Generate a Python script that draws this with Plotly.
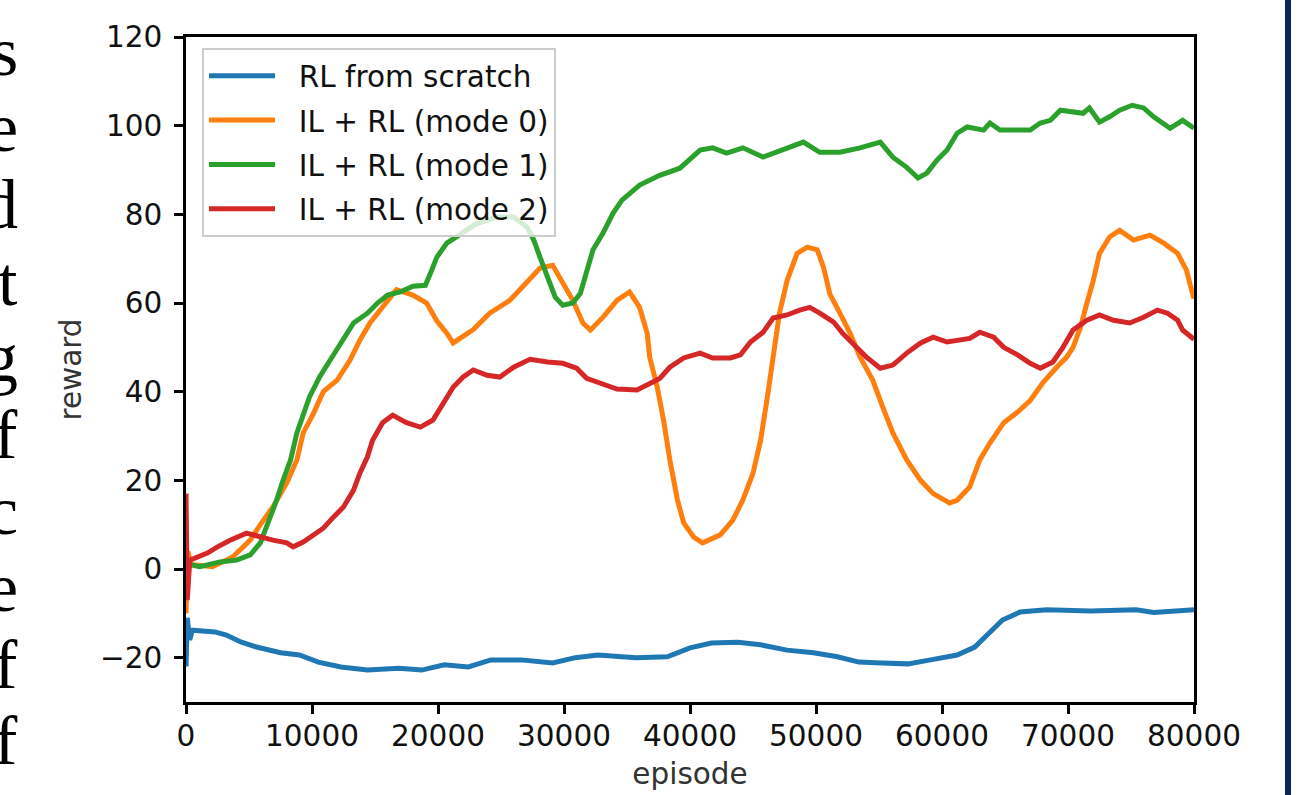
import plotly.graph_objects as go

# ---------------- data ----------------
blue_ep = [0, 100, 300, 500, 2300, 3200, 4400, 5600, 7500, 9000, 10500, 12300, 14400, 16900,
           18700, 20500, 22400, 24200, 26600, 29100, 30900, 32700, 35700, 38200, 40000, 41700,
           43800, 45600, 47700, 49800, 51700, 53400, 55200, 57300, 59100, 61200, 62600, 63700,
           64800, 66200, 68300, 71800, 75400, 76800, 80000]
blue_val = [-22, -11, -16, -13.8, -14.2, -14.9, -16.5, -17.6, -18.9, -19.4, -21, -22.1, -22.8, -22.4,
            -22.8, -21.6, -22.1, -20.5, -20.5, -21.2, -20, -19.4, -20, -19.8, -17.8, -16.7,
            -16.5, -17.1, -18.3, -18.9, -19.8, -21, -21.2, -21.4, -20.5, -19.4, -17.6, -14.4,
            -11.5, -9.7, -9.2, -9.5, -9.2, -9.8, -9.2]

orange_ep = [0, 150, 400, 2100, 3700, 5100, 5900, 6900, 8000, 8800, 9300, 10100, 10900, 12000,
             13000, 13800, 14600, 15400, 16000, 16700, 18000, 19100, 19900, 20700, 21200, 22800,
             24100, 25700, 26700, 28100, 29100, 29900, 30700, 31500, 32100, 33100, 34200, 35200,
             36000, 36600, 36800, 37400, 37900, 38400, 39000, 39500, 40300, 41000, 42400, 43400,
             44200, 45000, 45600, 46100, 46600, 47100, 47700, 48500, 49300, 50100, 50600, 51100,
             51900, 52700, 53500, 54500, 55300, 56100, 57200, 58300, 59300, 60600, 61200, 62200,
             63000, 63800, 64900, 66000, 67000, 68000, 69100, 69900, 70400, 71000, 71500, 72000,
             72500, 73300, 74100, 75200, 76500, 77600, 78700, 79400, 79800, 80000]
orange_val = [-10, 4, 1, 0.5, 2.7, 6.5, 10, 14, 19.4, 24.6, 30.7, 35, 40, 42.6,
              47, 51.6, 55.5, 58.4, 60.6, 63, 61.8, 60, 56, 53.2, 51, 54,
              57.7, 60.6, 63.6, 67.9, 68.5, 64.5, 60.6, 55.5, 53.9, 56.8, 60.6, 62.5,
              59, 53.2, 47.8, 41, 33.6, 24.6, 15.6, 10.4, 7.2, 5.9, 7.7, 11,
              15.6, 21.6, 29, 38, 48.7, 57.7, 65, 71.2, 72.6, 72, 68, 62,
              57.7, 53.2, 47.8, 42.6, 36.5, 30.7, 24.6, 20, 17, 14.9, 15.5, 18.5,
              24.6, 28.4, 33, 35.4, 38, 42, 45.5, 47.8, 50, 54.6, 60, 65,
              71.2, 74.9, 76.4, 74.2, 75.3, 73.5, 71.2, 67.4, 63, 61]

green_ep = [0, 300, 1100, 2700, 4000, 5100, 5900, 6400, 7200, 7700, 8300, 8800, 9300, 9800,
            10600, 11400, 12500, 13300, 14400, 15200, 16000, 17000, 18000, 19000, 19400, 19900,
            20700, 21700, 23000, 24700, 26000, 27100, 27600, 28100, 28700, 29300, 29900, 30700,
            31300, 31800, 32300, 33100, 33900, 34600, 36000, 37600, 39200, 40800, 41800, 42900,
            44200, 45800, 47400, 49000, 50300, 51900, 53500, 55100, 56100, 57200, 58100, 58800,
            59600, 60400, 61200, 62000, 63300, 63800, 64600, 66000, 67000, 67800, 68600, 69400,
            70400, 71200, 71700, 72500, 73300, 74100, 75100, 76000, 76800, 77600, 78100, 79100,
            79900, 80000]
green_val = [0, 1, 0.5, 1.6, 2, 3.2, 5.9, 9.5, 15.6, 20, 24.6, 30.7, 35, 38.8,
             43.3, 47, 51.6, 55.5, 57.7, 60, 61.8, 62.5, 63.8, 64, 66.7, 70.3,
             73.5, 75.5, 77.8, 79.4, 79.4, 77, 74.2, 70.3, 65.8, 61.3, 59.5, 60,
             62.2, 66.7, 72, 75.8, 80.3, 83.2, 86.6, 88.8, 90.4, 94.5, 95, 93.8,
             95, 92.9, 94.5, 96.3, 94, 94, 95, 96.3, 92.9, 90.6, 88.2, 89.3,
             92.2, 94.5, 98.3, 99.7, 99, 100.6, 99, 99, 99, 100.6, 101.2, 103.5,
             103, 102.8, 104, 100.8, 102, 103.5, 104.6, 104, 102, 100.6, 99.4, 101.2,
             99.4, 99.4]

red_ep = [0, 100, 300, 900, 1700, 2500, 3500, 4800, 5900, 6900, 8000, 8500, 9300, 10100,
          10900, 11700, 12500, 13300, 13800, 14400, 14800, 15600, 16400, 17500, 18600, 19600,
          20400, 21200, 22000, 22800, 23900, 24900, 26000, 27300, 28700, 29900, 31000, 31800,
          32900, 34200, 35800, 36600, 37600, 38400, 39500, 40800, 41800, 43200, 44000, 44800,
          45800, 46600, 47700, 48700, 49500, 50300, 51400, 52100, 52900, 54000, 55100, 56100,
          57200, 58300, 59300, 60400, 62200, 63000, 64100, 64900, 66000, 67000, 67800, 68800,
          69600, 70400, 71500, 72500, 73600, 74900, 76000, 77100, 77900, 78700, 79100, 79900,
          80000]
red_val = [17, -7, 2, 2.7, 3.6, 5, 6.5, 8.1, 7.2, 6.5, 5.9, 5, 6.1, 7.7,
           9.2, 11.7, 14, 17.8, 21.6, 25.3, 29, 33, 34.7, 33, 32, 33.6,
           37.2, 41, 43.3, 44.9, 43.7, 43.3, 45.5, 47.3, 46.7, 46.4, 45.3, 43,
           41.9, 40.6, 40.4, 41.5, 43, 45.5, 47.6, 48.7, 47.6, 47.6, 48.3, 51.2,
           53.4, 56.6, 57.3, 58.4, 59, 57.7, 55.7, 53.2, 51, 47.8, 45.3, 46,
           48.7, 51, 52.3, 51.2, 52, 53.4, 52.3, 50, 48.3, 46.4, 45.3, 46.7,
           50, 53.9, 56.1, 57.3, 56.1, 55.5, 56.8, 58.4, 57.7, 56.1, 53.9, 52,
           51.8]

series_names = ["RL from scratch", "IL + RL (mode 0)", "IL + RL (mode 1)", "IL + RL (mode 2)"]
series_colors = ["#1f77b4", "#ff7f0e", "#2ca02c", "#d62728"]

x_ticks = [0, 10000, 20000, 30000, 40000, 50000, 60000, 70000, 80000]
y_ticks = [-20, 0, 20, 40, 60, 80, 100, 120]

# cut-off letters of the surrounding paper text at the left edge
side_letters = ["s", "e", "d", "t", "g", "f", "c", "e", "f", "f"]

# ---------------- figure ----------------
W, H = 1301, 795
ML, MR, MT, MB = 186, 107, 37, 93
PW, PH = W - ML - MR, H - MT - MB
FS = 29.5


def px_x(px):
    return (px - ML) / PW


def px_y(py):
    return (H - MB - py) / PH


fig = go.Figure()
all_x = [blue_ep, orange_ep, green_ep, red_ep]
all_y = [blue_val, orange_val, green_val, red_val]
for i, (xs, ys) in enumerate(zip(all_x, all_y)):
    assert len(xs) == len(ys), (i, len(xs), len(ys))
    fig.add_trace(go.Scatter(
        x=xs, y=ys, mode="lines", name="\u00a0\u00a0" + series_names[i],
        legendgroup=f"g{i}",
        line=dict(color=series_colors[i], width=5),
    ))

axis_font = dict(family="DejaVu Sans", size=FS, color="#111111")
title_font = dict(family="DejaVu Sans", size=FS, color="#333333")
fig.update_xaxes(
    range=[0, 80000], tickvals=x_ticks, tickformat="d",
    showline=True, linecolor="black", linewidth=2.5, mirror=True,
    ticks="outside", ticklen=9, tickwidth=2.5, tickcolor="black",
    tickfont=axis_font, showgrid=False, zeroline=False,
    ticklabelstandoff=-3,
    title=dict(text="episode", font=title_font, standoff=12),
)
fig.update_yaxes(
    range=[-30, 120], tickvals=y_ticks,
    showline=True, linecolor="black", linewidth=2.5, mirror=True,
    ticks="outside", ticklen=9, tickwidth=2.5, tickcolor="black",
    tickfont=axis_font, showgrid=False, zeroline=False,
    ticklabelstandoff=6,
    title=dict(text="reward", font=title_font, standoff=10),
)

annotations = []
for i, ch in enumerate(side_letters):
    baseline = 75 + 76.6 * i
    annotations.append(dict(
        text=ch, xref="paper", yref="paper", x=px_x(20), y=px_y(baseline - 23.6),
        xanchor="right", yanchor="middle", showarrow=False,
        font=dict(family="Liberation Serif", size=70, color="black"),
    ))

shapes = [dict(
    type="rect", xref="paper", yref="paper",
    x0=px_x(1285), x1=px_x(1291), y0=px_y(H + 5), y1=px_y(-5),
    fillcolor="#0b2360", line=dict(width=0), layer="above",
)]

fig.update_layout(
    width=W, height=H,
    margin=dict(l=ML, r=MR, t=MT, b=MB, autoexpand=False),
    paper_bgcolor="white", plot_bgcolor="white",
    font=dict(family="DejaVu Sans", color="#111111"),
    showlegend=True,
    legend=dict(
        x=px_x(202), y=px_y(48), xanchor="left", yanchor="top",
        bgcolor="rgba(255,255,255,0.8)", bordercolor="#cccccc", borderwidth=2,
        font=dict(family="DejaVu Sans", size=FS, color="#111111"),
        itemwidth=66, tracegroupgap=3, traceorder="grouped",
    ),
    annotations=annotations,
    shapes=shapes,
)

fig.write_html("out.html")
